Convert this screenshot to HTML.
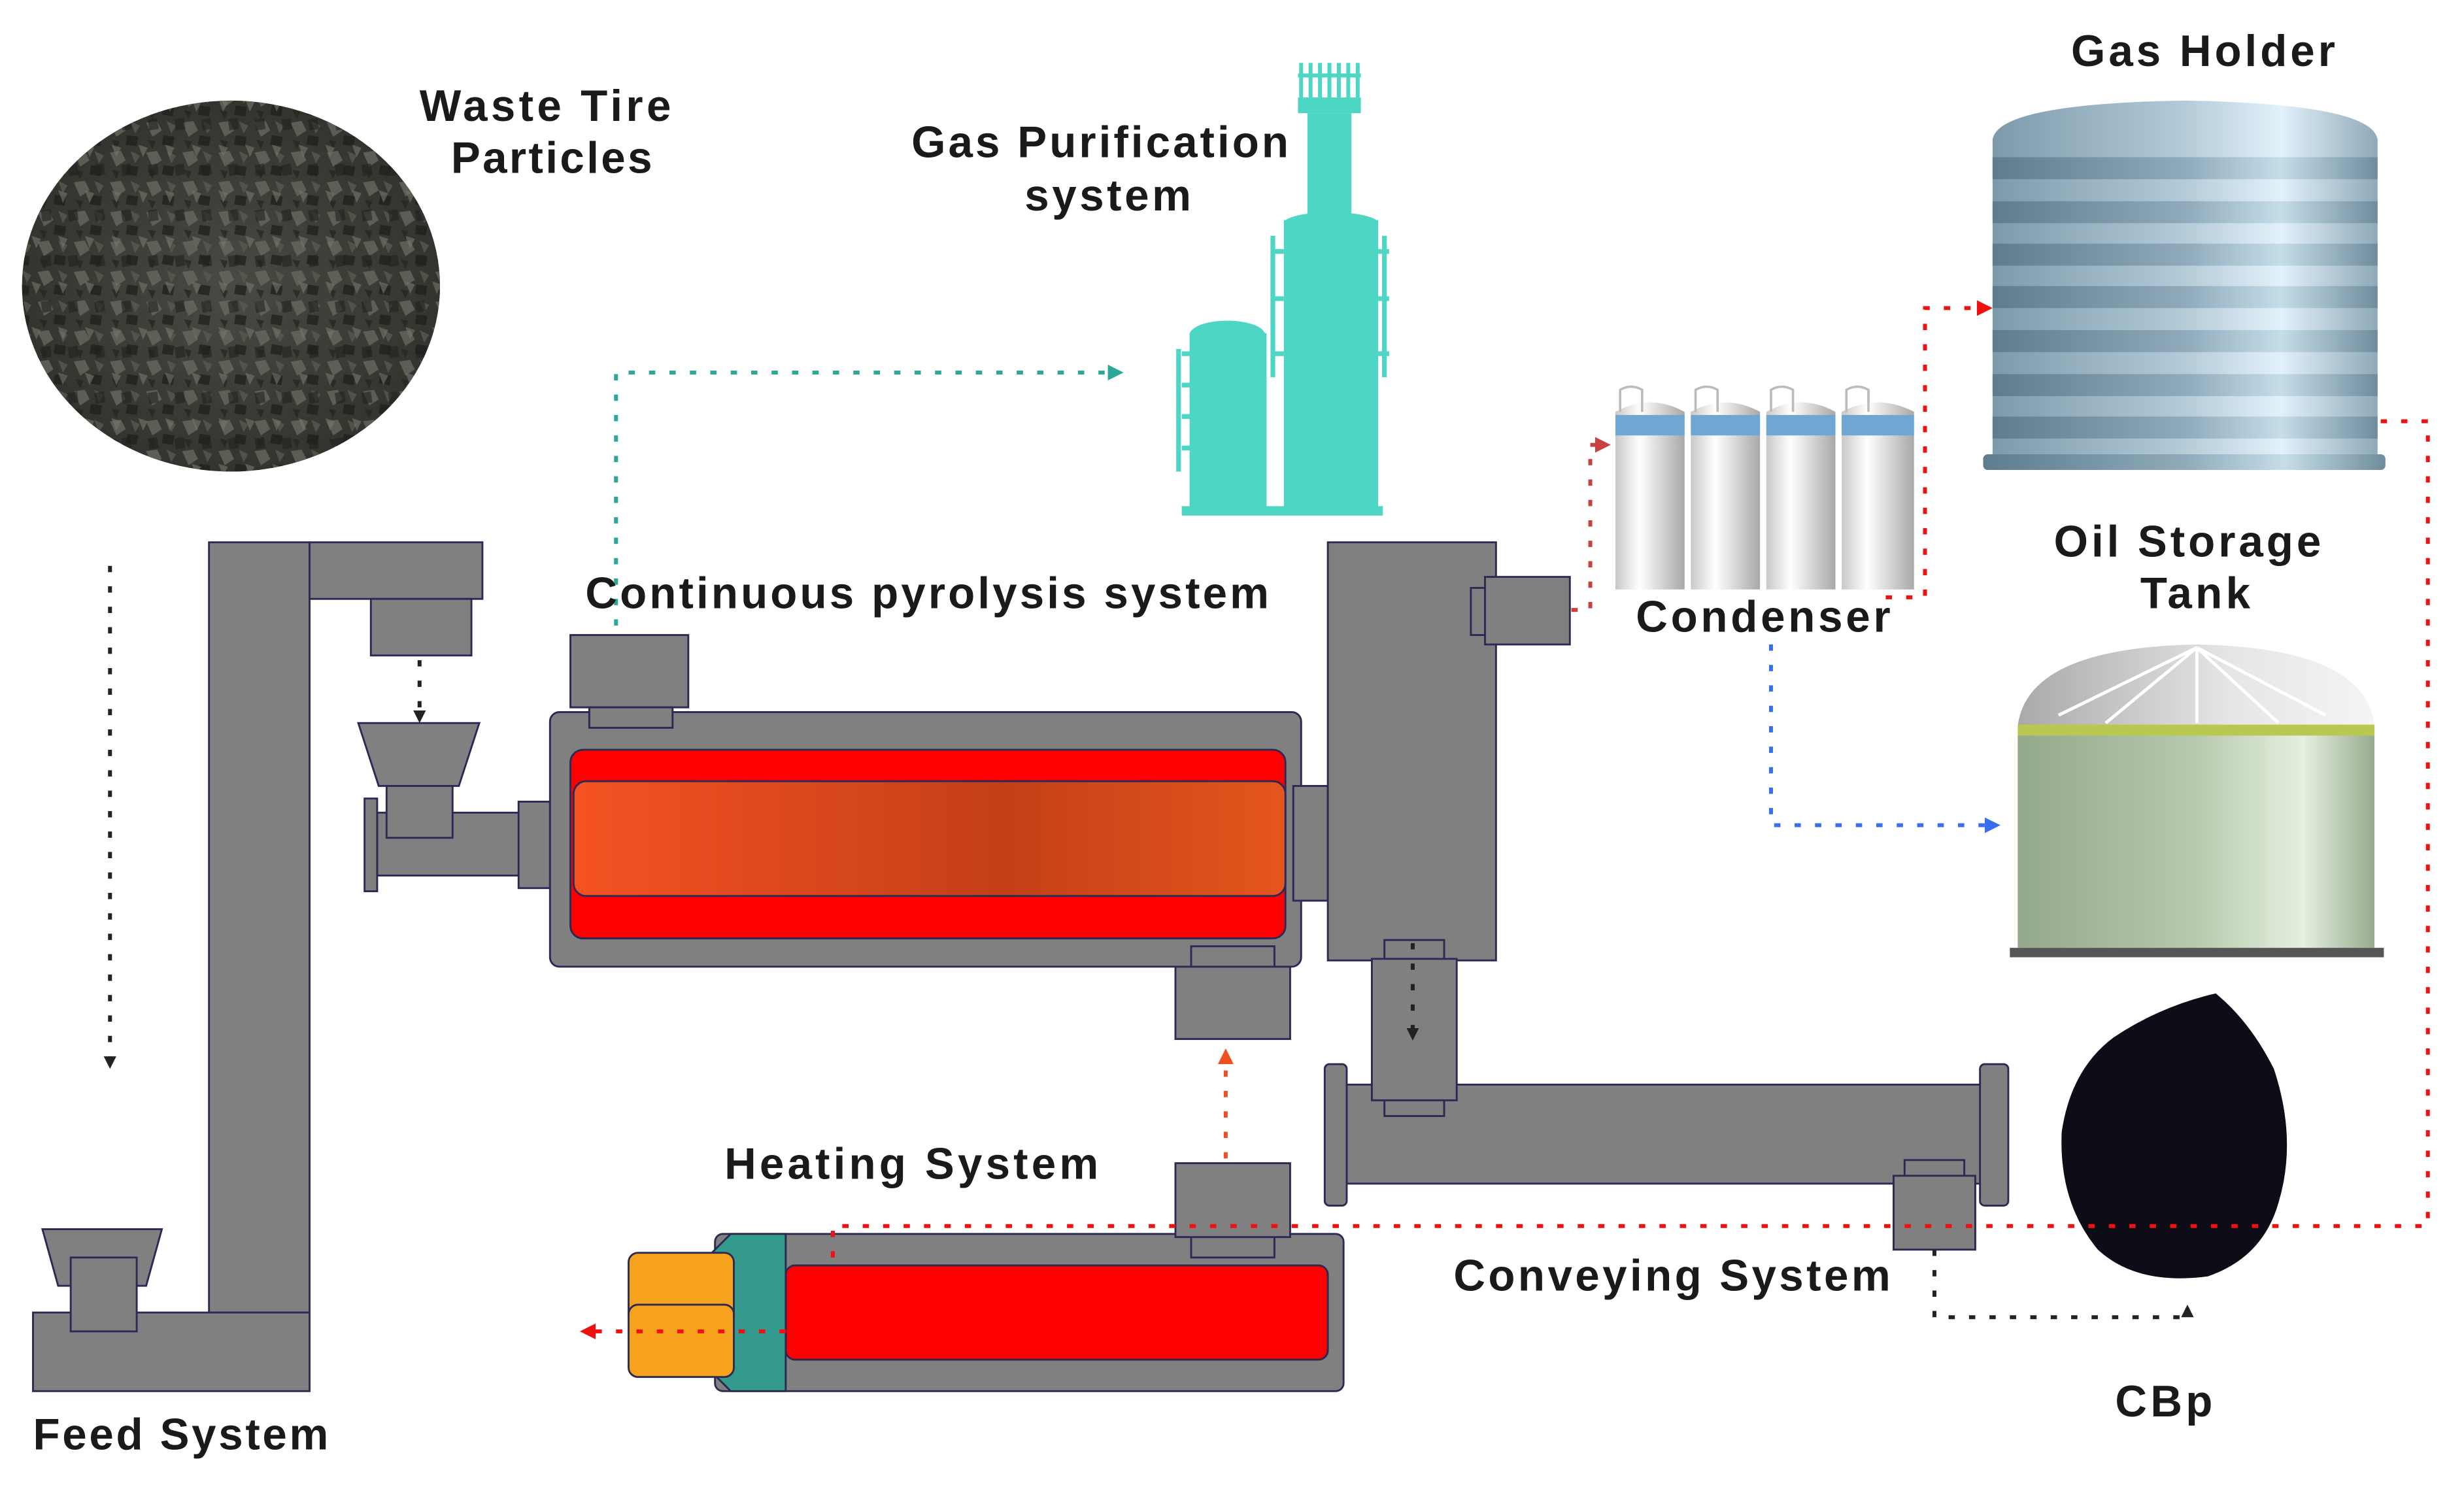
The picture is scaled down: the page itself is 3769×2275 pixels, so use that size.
<!DOCTYPE html>
<html><head><meta charset="utf-8"><style>
html,body{margin:0;padding:0;background:#fff}
svg{display:block}
text{font-family:"Liberation Sans","DejaVu Sans",sans-serif;font-weight:bold;fill:#1a1a1a;font-size:28px}
</style></head><body>
<svg width="3769" height="2275" viewBox="0 0 1568 946" preserveAspectRatio="none" xmlns="http://www.w3.org/2000/svg">
<defs>
<radialGradient id="tire" cx="50%" cy="50%" r="50%"><stop offset="0" stop-color="#4a4a44"/><stop offset="1" stop-color="#34342f"/></radialGradient>
<pattern id="grain" width="23" height="19" patternUnits="userSpaceOnUse"><path d="M1 2l7-1 3 6-6 4z" fill="#6a6a62"/><path d="M12 10l7 1-1 6-7-1z" fill="#1e1e1c"/><path d="M14 1l6 3-3 5z" fill="#5a5a52"/><path d="M2 13l5 1-2 5z" fill="#25251f"/></pattern>
<pattern id="grain2" width="17" height="29" patternUnits="userSpaceOnUse"><path d="M3 5l6 2-3 6z" fill="#76766c"/><path d="M9 18l6-1 1 7-6 1z" fill="#202020"/></pattern>
<linearGradient id="rg" x1="0" x2="1"><stop offset="0" stop-color="#f55222"/><stop offset="0.6" stop-color="#c43f18"/><stop offset="1" stop-color="#e4561c"/></linearGradient>
<linearGradient id="gh" x1="0" x2="1"><stop offset="0" stop-color="#7d9aab"/><stop offset="0.5" stop-color="#b4cbd8"/><stop offset="0.75" stop-color="#e2f1fa"/><stop offset="1" stop-color="#8fa9b8"/></linearGradient>
<linearGradient id="ghd" x1="0" x2="1"><stop offset="0" stop-color="#5e7c8e"/><stop offset="0.5" stop-color="#8eaabb"/><stop offset="0.75" stop-color="#c6dde9"/><stop offset="1" stop-color="#6e8c9d"/></linearGradient>
<linearGradient id="ot" x1="0" x2="1"><stop offset="0" stop-color="#94a88a"/><stop offset="0.5" stop-color="#b7c9ac"/><stop offset="0.8" stop-color="#e4f0e0"/><stop offset="1" stop-color="#98ab8e"/></linearGradient>
<linearGradient id="dome" x1="0" x2="1"><stop offset="0" stop-color="#a9a9a9"/><stop offset="0.6" stop-color="#e6e6e6"/><stop offset="1" stop-color="#f4f4f4"/></linearGradient>
<linearGradient id="cyl" x1="0" x2="1"><stop offset="0" stop-color="#c8c8c8"/><stop offset="0.35" stop-color="#ffffff"/><stop offset="1" stop-color="#a8a8a8"/></linearGradient>
<marker id="ab" markerWidth="8" markerHeight="8" refX="6" refY="4" orient="auto" markerUnits="userSpaceOnUse"><path d="M0 0L8 4L0 8z" fill="#222"/></marker>
<marker id="ar" markerWidth="10" markerHeight="10" refX="7" refY="5" orient="auto" markerUnits="userSpaceOnUse"><path d="M0 0L10 5L0 10z" fill="#f01010"/></marker>
<marker id="arr" markerWidth="10" markerHeight="10" refX="7" refY="5" orient="auto" markerUnits="userSpaceOnUse"><path d="M0 0L10 5L0 10z" fill="#c84040"/></marker>
<marker id="at" markerWidth="10" markerHeight="10" refX="7" refY="5" orient="auto" markerUnits="userSpaceOnUse"><path d="M0 0L10 5L0 10z" fill="#2aa89a"/></marker>
<marker id="abl" markerWidth="10" markerHeight="10" refX="7" refY="5" orient="auto" markerUnits="userSpaceOnUse"><path d="M0 0L10 5L0 10z" fill="#3a6ef0"/></marker>
<marker id="ao" markerWidth="10" markerHeight="10" refX="7" refY="5" orient="auto" markerUnits="userSpaceOnUse"><path d="M0 0L10 5L0 10z" fill="#f05020"/></marker>
</defs>
<g stroke="#2a2a55" stroke-width="1.2">
<ellipse cx="147" cy="182" rx="133" ry="118" fill="url(#tire)" stroke="none"/>
<ellipse cx="147" cy="182" rx="133" ry="118" fill="url(#grain)" stroke="none" opacity="0.75"/>
<ellipse cx="147" cy="182" rx="133" ry="118" fill="url(#grain2)" stroke="none" opacity="0.6"/>

<g fill="#808080">
<rect x="133" y="345" width="64" height="490"/>
<rect x="197" y="345" width="110" height="36"/>
<rect x="236" y="381" width="64" height="36"/>
<rect x="21" y="835" width="176" height="50"/>
<path d="M27 782H103L93 818H37z"/>
<rect x="45" y="800" width="42" height="47"/>
<path d="M228 460H305L292 500H241z"/>
<rect x="240" y="517" width="93" height="40"/>
<rect x="232" y="508" width="8" height="59"/>
<rect x="330" y="510" width="20" height="55"/>
<rect x="246" y="500" width="42" height="33"/>
<rect x="350" y="453" width="478" height="162" rx="6"/>
<rect x="363" y="404" width="75" height="46"/>
<rect x="375" y="450" width="53" height="13"/>
<rect x="758" y="602" width="53" height="13"/>
<rect x="748" y="615" width="73" height="46"/>
<rect x="823" y="500" width="22" height="73"/>
<rect x="845" y="345" width="107" height="266"/>
<rect x="936" y="374" width="11" height="30"/>
<rect x="945" y="367" width="54" height="43"/>
<rect x="855" y="690" width="407" height="63"/>
<rect x="843" y="677" width="14" height="90" rx="3"/>
<rect x="1260" y="677" width="18" height="90" rx="3"/>
<rect x="881" y="598" width="38" height="14"/>
<rect x="873" y="610" width="54" height="90"/>
<rect x="881" y="700" width="38" height="10"/>
<rect x="1212" y="738" width="38" height="10"/>
<rect x="1205" y="748" width="52" height="47"/>
<rect x="455" y="785" width="400" height="100" rx="5"/>
<rect x="758" y="787" width="53" height="13"/>
<rect x="748" y="740" width="73" height="47"/>
</g>
<rect x="363" y="477" width="455" height="120" rx="8" fill="#ff0000"/>
<rect x="365" y="497" width="453" height="73" rx="8" fill="url(#rg)"/>
<rect x="500" y="805" width="345" height="60" rx="6" fill="#ff0000"/>
<path d="M465 785H500V885H465L440 860V810z" fill="#349a8e"/>
<rect x="400" y="797" width="67" height="45" rx="6" fill="#f7a21c"/>
<rect x="400" y="830" width="67" height="46" rx="6" fill="#f7a21c"/>
</g>

<g fill="#4dd6c4">
<rect x="757" y="212" width="49" height="115"/>
<ellipse cx="781" cy="213" rx="24" ry="9"/>
<path d="M752 225H758M752 245H758M752 265H758M752 285H758M750 222V300" stroke="#4dd6c4" stroke-width="3" fill="none"/>
<rect x="817" y="140" width="60" height="187"/>
<ellipse cx="847" cy="142" rx="30" ry="7"/>
<rect x="832" y="72" width="28" height="70"/>
<path d="M810 150V240M810 160H817M810 190H817M810 225H817M881 150V240M877 160H884M877 190H884M877 225H884" stroke="#4dd6c4" stroke-width="3" fill="none"/>
<rect x="826" y="62" width="40" height="10"/>
<path d="M828 40V62M834 40V62M840 40V62M846 40V62M852 40V62M858 40V62M864 40V62M826 48H866" stroke="#4dd6c4" stroke-width="2.5"/>
<rect x="752" y="322" width="128" height="6"/>
</g>

<rect x="1268" y="88" width="245" height="205" fill="url(#gh)"/>
<path d="M1268 90Q1268 66 1390 64Q1513 66 1513 90z" fill="url(#gh)"/>
<g fill="url(#ghd)">
<rect x="1268" y="100" width="245" height="14"/><rect x="1268" y="128" width="245" height="14"/><rect x="1268" y="155" width="245" height="14"/><rect x="1268" y="182" width="245" height="14"/><rect x="1268" y="210" width="245" height="14"/><rect x="1268" y="238" width="245" height="14"/><rect x="1268" y="265" width="245" height="14"/>
</g>
<rect x="1262" y="289" width="256" height="10" rx="3" fill="url(#ghd)"/>

<g>
<rect x="1028" y="283" width="44" height="92" fill="url(#cyl)"/><path d="M1028 283V262Q1050 250 1072 262V283z" fill="url(#cyl)"/><rect x="1028" y="264" width="44" height="13" fill="#6fa6d2"/>
<rect x="1076" y="283" width="44" height="92" fill="url(#cyl)"/><path d="M1076 283V262Q1098 250 1120 262V283z" fill="url(#cyl)"/><rect x="1076" y="264" width="44" height="13" fill="#6fa6d2"/>
<rect x="1124" y="283" width="44" height="92" fill="url(#cyl)"/><path d="M1124 283V262Q1146 250 1168 262V283z" fill="url(#cyl)"/><rect x="1124" y="264" width="44" height="13" fill="#6fa6d2"/>
<rect x="1172" y="283" width="46" height="92" fill="url(#cyl)"/><path d="M1172 283V262Q1195 250 1218 262V283z" fill="url(#cyl)"/><rect x="1172" y="264" width="46" height="13" fill="#6fa6d2"/>
<path d="M1031 262V248Q1038 244 1045 248V262M1079 262V248Q1086 244 1093 248V262M1127 262V248Q1134 244 1141 248V262M1175 262V248Q1182 244 1189 248V262" stroke="#bbb" stroke-width="1.5" fill="none"/>
</g>

<path d="M1284 462Q1290 412 1398 410Q1506 412 1511 462z" fill="url(#dome)"/>
<path d="M1398 412L1398 460M1398 412L1340 460M1398 412L1310 455M1398 412L1450 460M1398 412L1480 455" stroke="#fff" stroke-width="2" fill="none"/>
<rect x="1284" y="461" width="227" height="7" fill="#b8c850"/>
<rect x="1284" y="468" width="227" height="135" fill="url(#ot)"/>
<rect x="1279" y="603" width="238" height="6" fill="#555"/>

<path d="M1345 660Q1375 640 1410 632Q1432 650 1447 680Q1462 725 1450 765Q1440 800 1405 812Q1360 818 1335 795Q1310 765 1312 720Q1318 680 1345 660z" fill="#0d0d18"/>

<g fill="none" stroke-width="2.5" stroke-dasharray="4 9">
<path d="M70 360V678" stroke="#222" marker-end="url(#ab)"/>
<path d="M267 420V458" stroke="#222" marker-end="url(#ab)"/>
<path d="M899 600V660" stroke="#222" marker-end="url(#ab)"/>
<path d="M1231 795V838H1392V832" stroke="#222" marker-end="url(#ab)"/>
<path d="M392 398V237H712" stroke="#2aa89a" marker-end="url(#at)"/>
<path d="M1000 388H1012V283H1022" stroke="#c84040" marker-end="url(#arr)"/>
<path d="M1200 380H1225V196H1265" stroke="#f01010" marker-end="url(#ar)"/>
<path d="M1127 410V525H1270" stroke="#3a6ef0" marker-end="url(#abl)"/>
<path d="M1515 268H1545V780H530V800" stroke="#f01010"/>
<path d="M500 847H372" stroke="#f01010" marker-end="url(#ar)"/>
<path d="M780 737V670" stroke="#f05020" marker-end="url(#ao)"/>
</g>

<text x="347" y="77" text-anchor="middle" textLength="160">Waste Tire</text>
<text x="351" y="110" text-anchor="middle" textLength="128">Particles</text>
<text x="700" y="100" text-anchor="middle" textLength="240">Gas Purification</text>
<text x="705" y="134" text-anchor="middle" textLength="106">system</text>
<text x="1402" y="42" text-anchor="middle" textLength="168">Gas Holder</text>
<text x="1392" y="354" text-anchor="middle" textLength="170">Oil Storage</text>
<text x="1397" y="387" text-anchor="middle" textLength="70">Tank</text>
<text x="1122" y="402" text-anchor="middle" textLength="162">Condenser</text>
<text x="590" y="387" text-anchor="middle" textLength="435">Continuous pyrolysis system</text>
<text x="580" y="750" text-anchor="middle" textLength="238">Heating System</text>
<text x="1064" y="821" text-anchor="middle" textLength="278">Conveying System</text>
<text x="115" y="922" text-anchor="middle" textLength="188">Feed System</text>
<text x="1377" y="901" text-anchor="middle" textLength="62">CBp</text>
</svg>
</body></html>
